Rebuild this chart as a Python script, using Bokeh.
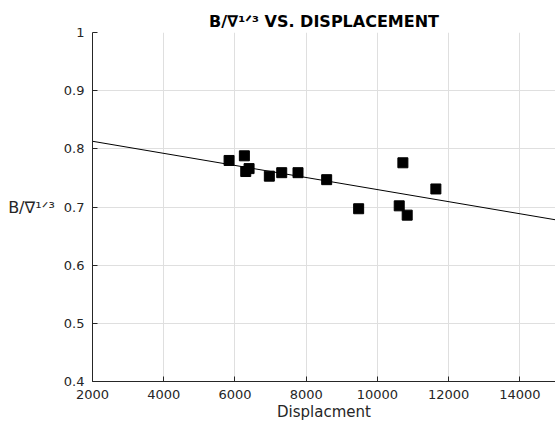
from bokeh.plotting import figure
from bokeh.models import Range1d, FixedTicker
from bokeh.embed import file_html
from bokeh.resources import INLINE

# Data
displacement = [5835, 6264, 6303, 6396, 6965, 7313, 7770, 8575, 9473, 10715, 10612, 10836, 11641]
b_ratio = [0.780, 0.788, 0.761, 0.766, 0.753, 0.759, 0.759, 0.747, 0.697, 0.776, 0.702, 0.686, 0.731]
fit_x = [2000, 15000]
fit_y = [0.813, 0.678]
x_ticks = [2000, 4000, 6000, 8000, 10000, 12000, 14000]
y_ticks = [0.4, 0.5, 0.6, 0.7, 0.8, 0.9, 1.0]

TITLE = "B/\u2207\u00b9\u141f\u00b3 VS. DISPLACEMENT"
Y_LABEL = "B/\u2207\u00b9\u141f\u00b3"
X_LABEL = "Displacment"

FONT = "DejaVu Sans"
AX = "#262626"

p = figure(width=555, height=423, output_backend="svg", toolbar_location=None,
           x_range=Range1d(2000, 15000), y_range=Range1d(0.4, 1.0),
           min_border_left=92, min_border_right=0, min_border_top=32, min_border_bottom=42)
p.outline_line_color = None
p.background_fill_color = "white"
p.border_fill_color = "white"

p.title.text = TITLE
p.title.align = "center"
p.title.text_font = FONT
p.title.text_font_size = "16px"
p.title.text_font_style = "bold"
p.title.text_color = "black"
p.title.standoff = 4

for g in (p.xgrid, p.ygrid):
    g.grid_line_color = "#dfdfdf"
    g.grid_line_width = 1

p.xaxis.ticker = FixedTicker(ticks=x_ticks)
p.yaxis.ticker = FixedTicker(ticks=y_ticks)
p.yaxis.major_label_overrides = {1.0: "1"}

for ax in (p.xaxis, p.yaxis):
    ax.axis_line_color = AX
    ax.axis_line_width = 1
    ax.major_tick_line_color = AX
    ax.major_tick_in = 5
    ax.major_tick_out = 0
    ax.minor_tick_line_color = None
    ax.major_label_text_font = FONT
    ax.major_label_text_font_size = "13px"
    ax.major_label_text_color = AX
    ax.major_label_standoff = 8
    ax.axis_label_text_font = FONT
    ax.axis_label_text_font_size = "15px"
    ax.axis_label_text_font_style = "normal"
    ax.axis_label_text_color = AX

p.xaxis.axis_label = X_LABEL
p.xaxis.axis_label_standoff = 1

p.yaxis.axis_label = Y_LABEL
p.yaxis.axis_label_text_font_size = "16px"
p.yaxis.axis_label_standoff = 6
try:
    p.yaxis.axis_label_orientation = "horizontal"
except Exception:
    pass

# fit line and data points
p.line(fit_x, fit_y, line_color="black", line_width=1)
p.scatter(displacement, b_ratio, marker="square", size=10, fill_color="black", line_color="black")

open("out.html", "w").write(file_html(p, INLINE))
